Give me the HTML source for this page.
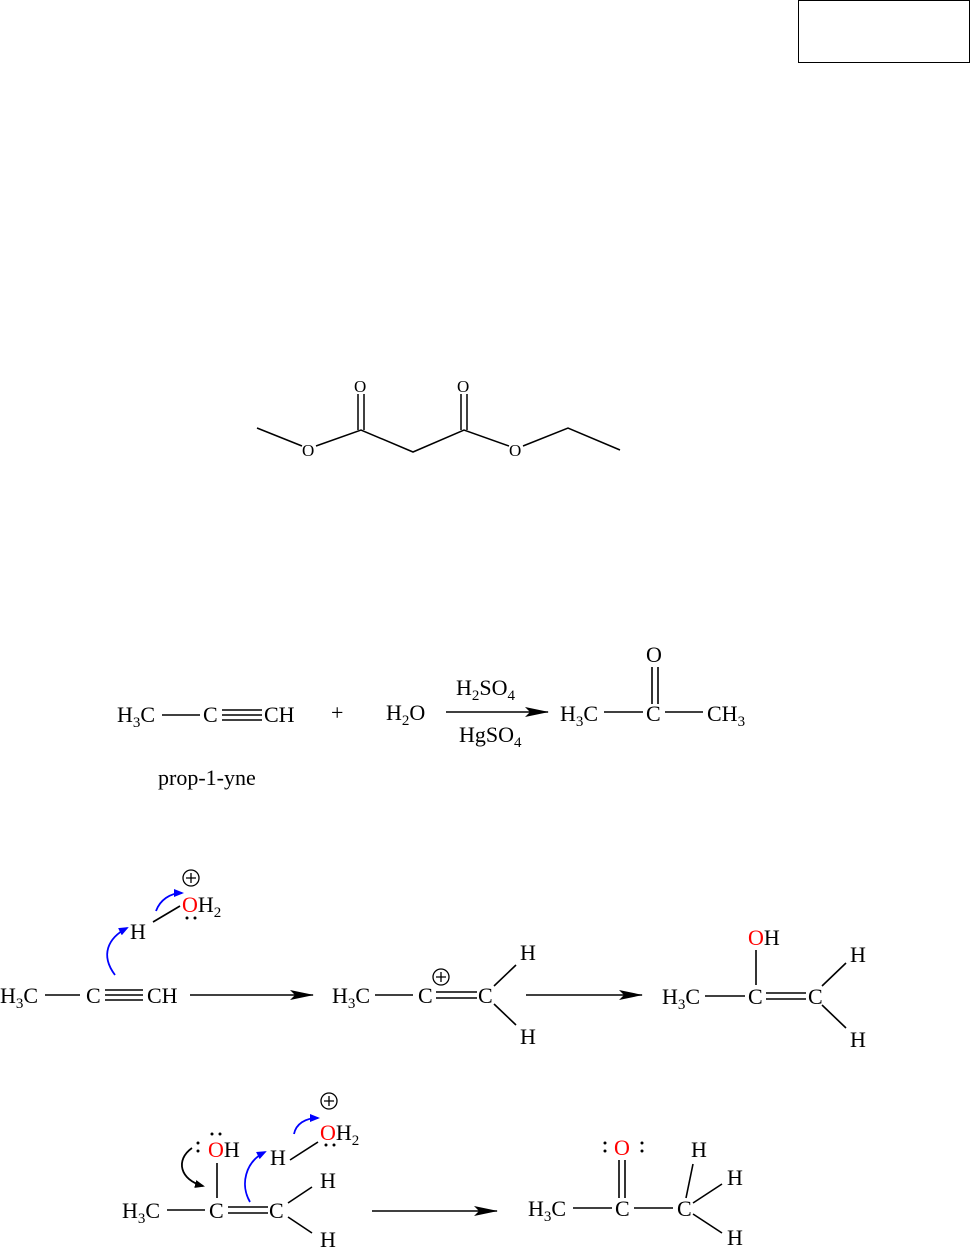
<!DOCTYPE html>
<html><head><style>body{margin:0;background:#fff}svg{display:block}</style></head><body>
<svg width="971" height="1248" viewBox="0 0 971 1248" xmlns="http://www.w3.org/2000/svg" font-family="Liberation Serif, serif" font-size="22" fill="#000">
<defs>
<marker id="bh" markerWidth="10" markerHeight="8" refX="8" refY="4" orient="auto" markerUnits="userSpaceOnUse"><path d="M0,0 L10,4 L0,8 z" fill="#00f"/></marker>
<marker id="kh" markerWidth="10" markerHeight="8" refX="8" refY="4" orient="auto" markerUnits="userSpaceOnUse"><path d="M0,0 L10,4 L0,8 z" fill="#000"/></marker>
<marker id="big" markerWidth="24" markerHeight="10" refX="23" refY="5" orient="auto" markerUnits="userSpaceOnUse"><path d="M0,0 L24,5 L0,10 L5,5 z" fill="#000"/></marker></defs>
<rect x="798.5" y="0.5" width="171" height="62" fill="none" stroke="#000"/>
<g stroke="#000" stroke-width="1.5" fill="none">
<polyline points="257,428 302,446"/><polyline points="316,446 361,430 413,452 464,430 509,446"/><polyline points="523,446 568,428 620,450"/>
<line x1="358" y1="430" x2="358" y2="394"/><line x1="364" y1="430" x2="364" y2="394"/>
<line x1="461" y1="430" x2="461" y2="394"/><line x1="467" y1="430" x2="467" y2="394"/>
</g>
<g font-size="17"><text x="302" y="456">O</text><text x="354" y="392">O</text><text x="457" y="392">O</text><text x="509" y="456">O</text></g>
<g stroke="#000" stroke-width="1.6">
<line x1="162" y1="715" x2="200" y2="715"/><line x1="222" y1="710" x2="262" y2="710"/><line x1="222" y1="715" x2="262" y2="715"/><line x1="222" y1="720" x2="262" y2="720"/>
<line x1="446" y1="712" x2="548" y2="712" marker-end="url(#big)"/>
<line x1="604" y1="712" x2="643" y2="712"/><line x1="665" y1="712" x2="703" y2="712"/>
<line x1="652" y1="667" x2="652" y2="704"/><line x1="658" y1="667" x2="658" y2="704"/>
</g>
<text x="117" y="722">H<tspan font-size="15" dy="5">3</tspan><tspan dy="-5">C</tspan></text>
<text x="203" y="722">C</text><text x="264" y="722">CH</text><text x="331" y="720">+</text>
<text x="386" y="720">H<tspan font-size="15" dy="5">2</tspan><tspan dy="-5">O</tspan></text>
<text x="456" y="695">H<tspan font-size="15" dy="5">2</tspan><tspan dy="-5">SO</tspan><tspan font-size="15" dy="5">4</tspan></text>
<text x="459" y="742">HgSO<tspan font-size="15" dy="5">4</tspan></text>
<text x="560" y="721">H<tspan font-size="15" dy="5">3</tspan><tspan dy="-5">C</tspan></text>
<text x="646" y="721">C</text><text x="646" y="662">O</text>
<text x="707" y="721">CH<tspan font-size="15" dy="5">3</tspan></text>
<text x="158" y="785">prop-1-yne</text>
<g stroke="#000" stroke-width="1.6">
<line x1="45" y1="995" x2="80" y2="995"/><line x1="105" y1="990" x2="143" y2="990"/><line x1="105" y1="995" x2="143" y2="995"/><line x1="105" y1="1000" x2="143" y2="1000"/>
<line x1="153" y1="922" x2="180" y2="906"/>
<line x1="190" y1="995" x2="313" y2="995" marker-end="url(#big)"/>
<line x1="375" y1="995" x2="413" y2="995"/><line x1="436" y1="992" x2="477" y2="992"/><line x1="436" y1="998" x2="477" y2="998"/>
<line x1="494" y1="986" x2="516" y2="965"/><line x1="494" y1="1004" x2="516" y2="1025"/>
<line x1="526" y1="995" x2="642" y2="995" marker-end="url(#big)"/>
<line x1="705" y1="996" x2="745" y2="996"/><line x1="766" y1="993" x2="806" y2="993"/><line x1="766" y1="999" x2="806" y2="999"/>
<line x1="756" y1="950" x2="756" y2="985"/>
<line x1="822" y1="986" x2="846" y2="963"/><line x1="822" y1="1005" x2="846" y2="1028"/>
</g>
<text x="0" y="1003">H<tspan font-size="15" dy="5">3</tspan><tspan dy="-5">C</tspan></text>
<text x="86" y="1003">C</text><text x="147" y="1003">CH</text>
<text x="130" y="939">H</text>
<text x="182" y="912"><tspan fill="#f00">O</tspan>H<tspan font-size="15" dy="5">2</tspan></text>
<circle cx="191" cy="878" r="8" fill="none" stroke="#000" stroke-width="1.3"/><path d="M186,878h10M191,873v10" stroke="#000" stroke-width="1.3"/>
<circle cx="187" cy="918" r="1.5"/><circle cx="195" cy="918" r="1.5"/>
<path d="M115,975 C100,955 108,938 127,928" stroke="#00f" stroke-width="1.8" fill="none" marker-end="url(#bh)"/>
<path d="M156,911 C160,900 170,893 182,893" stroke="#00f" stroke-width="1.8" fill="none" marker-end="url(#bh)"/>
<text x="332" y="1003">H<tspan font-size="15" dy="5">3</tspan><tspan dy="-5">C</tspan></text>
<text x="418" y="1003">C</text><text x="478" y="1003">C</text>
<circle cx="441" cy="977" r="8" fill="none" stroke="#000" stroke-width="1.3"/><path d="M436,977h10M441,972v10" stroke="#000" stroke-width="1.3"/>
<text x="520" y="960">H</text><text x="520" y="1044">H</text>
<text x="662" y="1004">H<tspan font-size="15" dy="5">3</tspan><tspan dy="-5">C</tspan></text>
<text x="748" y="1004">C</text><text x="808" y="1004">C</text>
<text x="748" y="945"><tspan fill="#f00">O</tspan>H</text>
<text x="850" y="962">H</text><text x="850" y="1047">H</text>
<g stroke="#000" stroke-width="1.6">
<line x1="167" y1="1210" x2="205" y2="1210"/><line x1="228" y1="1207" x2="268" y2="1207"/><line x1="228" y1="1213" x2="268" y2="1213"/>
<line x1="217" y1="1163" x2="217" y2="1198"/>
<line x1="290" y1="1160" x2="318" y2="1142"/>
<line x1="288" y1="1203" x2="312" y2="1187"/><line x1="288" y1="1217" x2="312" y2="1233"/>
<line x1="372" y1="1211" x2="497" y2="1211" marker-end="url(#big)"/>
<line x1="573" y1="1208" x2="612" y2="1208"/><line x1="634" y1="1208" x2="673" y2="1208"/>
<line x1="619" y1="1160" x2="619" y2="1198"/><line x1="625" y1="1160" x2="625" y2="1198"/>
<line x1="686" y1="1198" x2="693" y2="1164"/><line x1="693" y1="1203" x2="722" y2="1184"/><line x1="693" y1="1214" x2="722" y2="1233"/>
</g>
<text x="122" y="1218">H<tspan font-size="15" dy="5">3</tspan><tspan dy="-5">C</tspan></text>
<text x="209" y="1218">C</text><text x="269" y="1218">C</text>
<text x="320" y="1188">H</text><text x="320" y="1247">H</text>
<text x="208" y="1157"><tspan fill="#f00">O</tspan>H</text>
<circle cx="212" cy="1134" r="1.5"/><circle cx="220" cy="1134" r="1.5"/><circle cx="198" cy="1143" r="1.5"/><circle cx="198" cy="1151" r="1.5"/>
<path d="M192,1148 C175,1160 180,1180 203,1186" stroke="#000" stroke-width="1.8" fill="none" marker-end="url(#kh)"/>
<text x="270" y="1165">H</text>
<path d="M250,1202 C240,1185 245,1162 265,1152" stroke="#00f" stroke-width="1.8" fill="none" marker-end="url(#bh)"/>
<text x="320" y="1140"><tspan fill="#f00">O</tspan>H<tspan font-size="15" dy="5">2</tspan></text>
<circle cx="329" cy="1101" r="8" fill="none" stroke="#000" stroke-width="1.3"/><path d="M324,1101h10M329,1096v10" stroke="#000" stroke-width="1.3"/>
<circle cx="326" cy="1145" r="1.5"/><circle cx="334" cy="1145" r="1.5"/>
<path d="M294,1134 C296,1124 305,1118 318,1118" stroke="#00f" stroke-width="1.8" fill="none" marker-end="url(#bh)"/>
<text x="528" y="1216">H<tspan font-size="15" dy="5">3</tspan><tspan dy="-5">C</tspan></text>
<text x="615" y="1216">C</text><text x="677" y="1216">C</text>
<text x="614" y="1155" fill="#f00">O</text>
<circle cx="605" cy="1143" r="1.5"/><circle cx="605" cy="1151" r="1.5"/><circle cx="642" cy="1143" r="1.5"/><circle cx="642" cy="1151" r="1.5"/>
<text x="691" y="1157">H</text><text x="727" y="1185">H</text><text x="727" y="1245">H</text>
</svg>
</body></html>
